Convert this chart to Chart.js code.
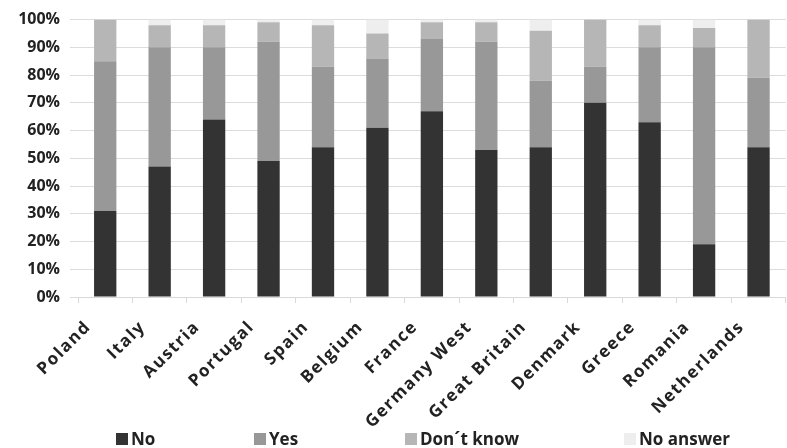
<!DOCTYPE html>
<html>
<head>
<meta charset="utf-8">
<script src="https://cdn.jsdelivr.net/npm/chart.js@4/dist/chart.umd.min.js"></script>
<style>
  html, body { margin: 0; padding: 0; background: #fff; }
  #wrap { position: relative; width: 787px; height: 448px; }
  #legend { position: absolute; left: 0; top: 427px; width: 787px; height: 22px;
            font: bold 17px 'Open Sans', sans-serif; color: #222; }
  #legend span.item { position: absolute; top: 0; white-space: nowrap; }
  #legend i { display: inline-block; width: 12px; height: 12px; margin-right: 3px; vertical-align: 0px; }
</style>
</head>
<body>
<div id="wrap">
  <canvas id="myChart"></canvas>
  <div id="legend"></div>
</div>
<script>
const countries = ['Poland', 'Italy', 'Austria', 'Portugal', 'Spain', 'Belgium', 'France',
    'Germany West', 'Great Britain', 'Denmark', 'Greece', 'Romania', 'Netherlands'];
const no       = [31, 47, 64, 49, 54, 61, 67, 53, 54, 70, 63, 19, 54];
const yes      = [54, 43, 26, 43, 29, 25, 26, 39, 24, 13, 27, 71, 25];
const dontKnow = [15,  8,  8,  7, 15,  9,  6,  7, 18, 17,  8,  7, 21];
const noAnswer = [ 0,  2,  2,  1,  2,  5,  1,  1,  4,  0,  2,  3,  0];
const yTicks = [0, 10, 20, 30, 40, 50, 60, 70, 80, 90, 100];
const seriesNames = ['No', 'Yes', 'Don\u00b4t know', 'No answer'];
const seriesColors = ['#333333', '#989898', '#b6b6b6', '#eeeeee'];
// left edge of each legend entry
const legendX = [116, 254, 405, 624];

// the original's category labels are drawn a bit spread out
const spacedLabels = {
    id: 'spacedLabels',
    afterLayout(chart) {
        const s = chart.scales.x;
        if (s._spaced) return;
        const orig = s.drawLabels.bind(s);
        s.drawLabels = (area) => {
            chart.ctx.save();
            chart.ctx.letterSpacing = '1.5px';
            orig(area);
            chart.ctx.restore();
        };
        s._spaced = true;
    }
};

const ctx = document.getElementById('myChart').getContext('2d');
const myChart = new Chart(ctx, {
    type: 'bar',
    data: {
        labels: countries,
        datasets: [
            { label: seriesNames[0], data: no, backgroundColor: seriesColors[0] },
            { label: seriesNames[1], data: yes, backgroundColor: seriesColors[1] },
            { label: seriesNames[2], data: dontKnow, backgroundColor: seriesColors[2] },
            { label: seriesNames[3], data: noAnswer, backgroundColor: seriesColors[3] }
        ]
    },
    options: {
        responsive: true,
        maintainAspectRatio: false,
        animation: false,
        datasets: {
            bar: { barPercentage: 0.41, categoryPercentage: 1, borderWidth: 0 }
        },
        layout: { padding: { top: 14, right: 1, bottom: 1, left: 0 } },
        plugins: {
            tooltip: { enabled: false },
            legend: { display: false }
        },
        scales: {
            x: {
                stacked: true,
                grid: { drawOnChartArea: false, color: '#d9d9d9', tickLength: 6 },
                border: { color: '#d9d9d9' },
                ticks: {
                    font: { family: 'Open Sans', weight: 'bold', size: 17 },
                    color: '#222', maxRotation: 45, minRotation: 45,
                    padding: 14, labelOffset: -17
                },
                afterFit: (scale) => { scale.height = 150; }
            },
            y: {
                stacked: true,
                min: 0,
                max: 100,
                afterBuildTicks: (scale) => { scale.ticks = yTicks.map(v => ({ value: v })); },
                grid: { color: '#dcdcdc' },
                border: { display: false },
                ticks: {
                    autoSkip: false,
                    font: { family: 'Open Sans', weight: 'bold', size: 16 },
                    color: '#222',
                    padding: 10,
                    callback: (v) => v + '%'
                },
                afterFit: (scale) => { scale.width = 78; }
            }
        }
    },
    plugins: [spacedLabels]
});

// legend as html, spaced like the original
const legend = document.getElementById('legend');
myChart.data.datasets.forEach((ds, i) => {
    const item = document.createElement('span');
    item.className = 'item';
    item.style.left = legendX[i] + 'px';
    const box = document.createElement('i');
    box.style.background = ds.backgroundColor;
    item.appendChild(box);
    item.appendChild(document.createTextNode(ds.label));
    legend.appendChild(item);
});
</script>
</body>
</html>
